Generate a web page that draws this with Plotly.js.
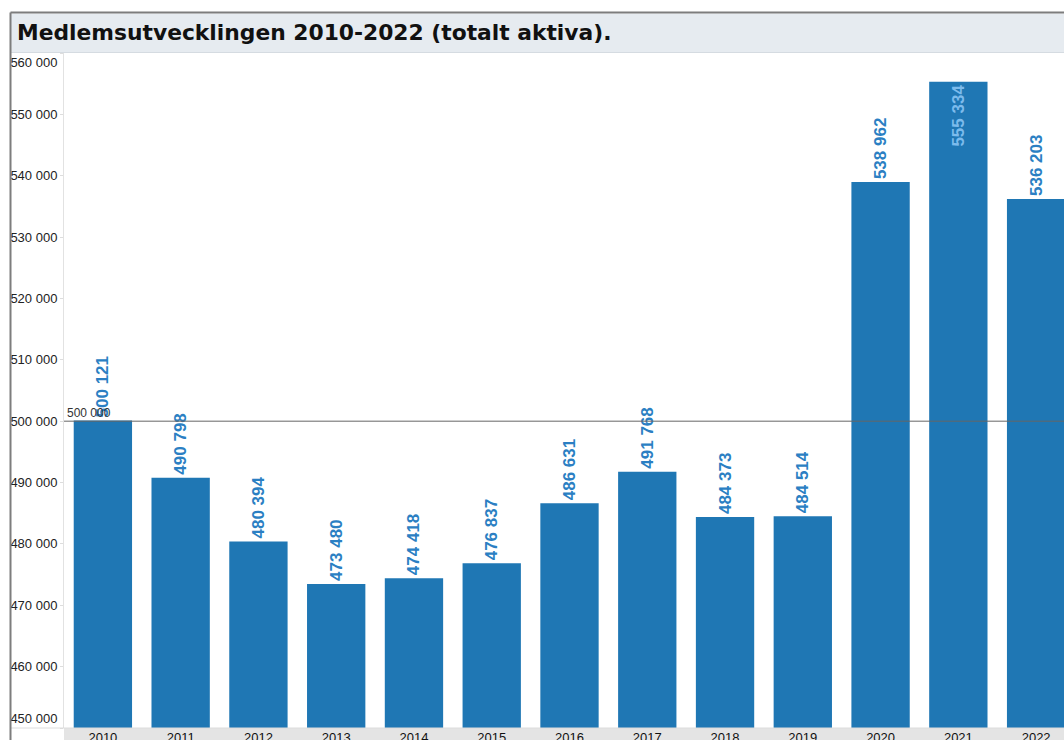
<!DOCTYPE html>
<html>
<head>
<meta charset="utf-8">
<script src="https://cdn.plot.ly/plotly-3.0.1.min.js"></script>
<style>
html,body{margin:0;padding:0;overflow:hidden;background:#fff;}
#chart{width:1100px;height:760px;}
</style>
</head>
<body>
<div id="chart"></div>
<script>
const years = ['2010','2011','2012','2013','2014','2015','2016','2017','2018','2019','2020','2021','2022'];
const members = [500121, 490798, 480394, 473480, 474418, 476837, 486631, 491768, 484373, 484514, 538962, 555334, 536203];
const titleText = 'Medlemsutvecklingen 2010-2022 (totalt aktiva).';
const yMin = 450000, yMax = 560000;
const innerTicks = [460000, 470000, 480000, 490000, 500000, 510000, 520000, 530000, 540000, 550000];
const topTick = [560000];
const bottomTick = [450000];
const refValue = 500000;
const refLabel = '500 000';

// plot geometry (px) inside a 1100x760 div; viewport crops at 1064x740
const W = 1100, H = 760, L = 64, R = 25, T = 53, B = 32;
const plotH = H - T - B, plotW = W - L - R;
const px2x = p => (p - L) / plotW;
const px2y = p => (H - B - p) / plotH;

const positions = members.map(v => v > 550000 ? 'inside' : 'outside');
const labelColors = members.map(v => v > 550000 ? '#7cbbec' : '#2b7fc3');

const trace = {
  type: 'bar',
  x: years,
  y: members,
  marker: {color: '#1f77b4', line: {width: 0}},
  texttemplate: '%{y:,.0f}',
  textposition: positions,
  textangle: -90,
  insidetextanchor: 'end',
  constraintext: 'none',
  cliponaxis: false,
  textfont: {family: 'Liberation Sans, Arial, sans-serif', size: 17, color: labelColors, weight: 'bold'},
  hoverinfo: 'skip'
};
const dummy2 = {type: 'scatter', x: [], y: [], yaxis: 'y2', hoverinfo: 'skip', showlegend: false};
const dummy3 = {type: 'scatter', x: [], y: [], yaxis: 'y3', hoverinfo: 'skip', showlegend: false};

const tickFont = {family: 'Liberation Sans, Arial, sans-serif', size: 13, color: '#222'};
const yCommon = {
  range: [yMin, yMax],
  tickmode: 'array',
  tickformat: ',.0f',
  showgrid: false, zeroline: false,
  ticks: 'outside', ticklen: 3, tickcolor: '#dddddd',
  tickfont: tickFont,
  fixedrange: true
};

const layout = {
  width: W, height: H,
  margin: {l: L, r: R, t: T, b: B, pad: 0},
  separators: ', ',
  paper_bgcolor: '#ffffff',
  plot_bgcolor: '#ffffff',
  bargap: 0.25,
  showlegend: false,
  title: {
    text: '<b>' + titleText + '</b>',
    xref: 'container', yref: 'container',
    x: 17 / W, xanchor: 'left',
    y: 1 - 32 / H, yanchor: 'middle',
    font: {family: 'DejaVu Sans, sans-serif', size: 21.8, color: '#111111'}
  },
  xaxis: {
    type: 'category',
    showgrid: false, zeroline: false, showline: false,
    ticks: '',
    tickfont: {family: 'Liberation Sans, Arial, sans-serif', size: 13, color: '#111'},
    fixedrange: true
  },
  yaxis: Object.assign({}, yCommon, {
    tickvals: innerTicks,
    showline: true, linecolor: '#e2e2e2', linewidth: 1
  }),
  yaxis2: Object.assign({}, yCommon, {
    overlaying: 'y', side: 'left', tickvals: topTick, showline: false,
    ticklabelshift: 9
  }),
  yaxis3: Object.assign({}, yCommon, {
    overlaying: 'y', side: 'left', tickvals: bottomTick, showline: false,
    ticklabelshift: -10
  }),
  shapes: [
    // title bar
    {type: 'rect', xref: 'paper', yref: 'paper', x0: px2x(11), x1: 1.2, y0: px2y(52), y1: px2y(13.5),
     fillcolor: '#e6ebf0', line: {width: 0}, layer: 'below'},
    {type: 'line', xref: 'paper', yref: 'paper', x0: px2x(11), x1: 1.2, y0: px2y(52.5), y1: px2y(52.5),
     line: {color: '#d5dbe1', width: 1}},
    // x axis band
    {type: 'rect', xref: 'paper', yref: 'paper', x0: 0, x1: 1.2, y0: px2y(760), y1: 0,
     fillcolor: '#e4e4e4', line: {width: 0}, layer: 'below'},
    {type: 'line', xref: 'paper', yref: 'paper', x0: px2x(11), x1: 1.2, y0: 0, y1: 0,
     line: {color: '#dcdcdc', width: 1}},
    // outer border
    {type: 'line', xref: 'paper', yref: 'paper', x0: px2x(10.5), x1: 1.2, y0: px2y(12.5), y1: px2y(12.5),
     line: {color: '#7d7d7d', width: 2}},
    {type: 'line', xref: 'paper', yref: 'paper', x0: px2x(10.5), x1: px2x(10.5), y0: px2y(760), y1: px2y(12.5),
     line: {color: '#7d7d7d', width: 2}},
    // reference line
    {type: 'line', xref: 'paper', yref: 'y', x0: 0, x1: 1, y0: refValue, y1: refValue,
     line: {color: '#666666', width: 1}, layer: 'above'}
  ],
  annotations: [
    {xref: 'paper', yref: 'y', x: px2x(65), y: refValue, xanchor: 'left', yanchor: 'bottom',
     text: refLabel, showarrow: false, yshift: -1,
     font: {family: 'Liberation Sans, Arial, sans-serif', size: 12, color: '#333'}}
  ]
};

Plotly.newPlot('chart', [trace, dummy2, dummy3], layout, {displayModeBar: false, staticPlot: true});
</script>
</body>
</html>
